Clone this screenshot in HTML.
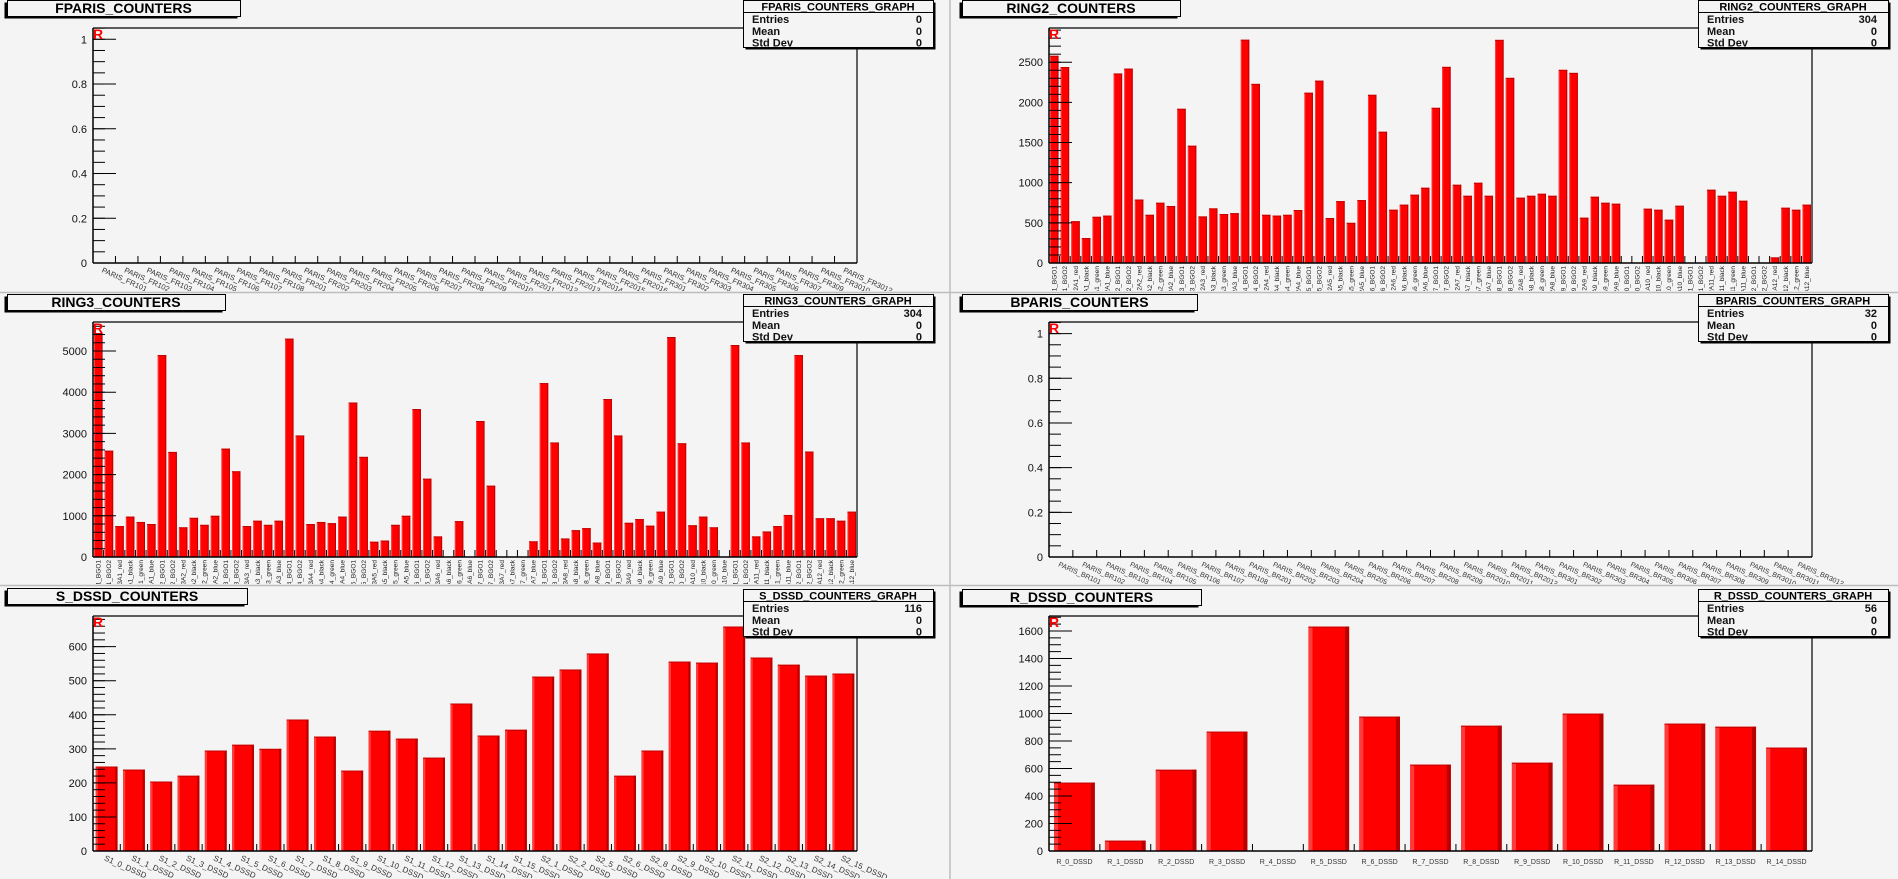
<!DOCTYPE html>
<html><head><meta charset="utf-8"><style>
html,body{margin:0;padding:0;background:#f4f4f4;}
svg{display:block;font-family:"Liberation Sans",sans-serif;}
</style></head><body>
<svg id="cv" width="1898" height="879" viewBox="0 0 1898 879" xmlns="http://www.w3.org/2000/svg">
<rect x="0" y="0" width="1898" height="879" fill="#f4f4f4"/>
<line x1="950" y1="0" x2="950" y2="879" stroke="#bdbdbd" stroke-width="1.5"/>
<line x1="0" y1="292.5" x2="1898" y2="292.5" stroke="#bdbdbd" stroke-width="1.5"/>
<line x1="0" y1="585.5" x2="1898" y2="585.5" stroke="#bdbdbd" stroke-width="1.5"/>
</svg>
<script>
const ring2Values=[2580,2440,520,310,575,590, 2360,2420,790,600,750,710, 1920,1460,580,680,610,620, 2780,2230,600,590,600,660, 2120,2270,560,770,500,783, 2094,1634,663,726,850,937, 1932,2442,974,837,999,837, 2778,2305,813,837,862,837, 2405,2367,564,825,750,738, 0,0,676,663,539,713, 0,0,912,837,887,775, 0,0,70,688,663,726];
const ring3Values=[5437,2580,750,980,850,800, 4900,2550,720,950,780,1000, 2630,2080,750,880,780,880, 5300,2950,800,850,820,980, 3750,2430,370,400,780,1000, 3590,1900,500,0,870,0, 3300,1730,0,0,0,380, 4220,2780,450,650,700,350, 3835,2950,830,920,760,1100, 5340,2760,770,980,720,0, 5145,2780,500,620,750,1020, 4900,2560,940,940,880,1100];
const sdssdCategories=["S1_0_DSSD","S1_1_DSSD","S1_2_DSSD","S1_3_DSSD","S1_4_DSSD","S1_5_DSSD","S1_6_DSSD","S1_7_DSSD","S1_8_DSSD","S1_9_DSSD","S1_10_DSSD","S1_11_DSSD","S1_12_DSSD","S1_13_DSSD","S1_14_DSSD","S1_15_DSSD","S2_1_DSSD","S2_2_DSSD","S2_5_DSSD","S2_6_DSSD","S2_8_DSSD","S2_9_DSSD","S2_10_DSSD","S2_11_DSSD","S2_12_DSSD","S2_13_DSSD","S2_14_DSSD","S2_15_DSSD"];
const sdssdValues=[248,239,204,221,295,312,300,386,336,236,353,330,274,433,339,356,512,533,580,221,295,556,553,659,568,547,515,521];
const rdssdCategories=["R_0_DSSD","R_1_DSSD","R_2_DSSD","R_3_DSSD","R_4_DSSD","R_5_DSSD","R_6_DSSD","R_7_DSSD","R_8_DSSD","R_9_DSSD","R_10_DSSD","R_11_DSSD","R_12_DSSD","R_13_DSSD","R_14_DSSD"];
const rdssdValues=[497,75,591,868,0,1632,977,628,911,642,999,482,926,904,752];
const fparisCategories=["PARIS_FR101","PARIS_FR102","PARIS_FR103","PARIS_FR104","PARIS_FR105","PARIS_FR106","PARIS_FR107","PARIS_FR108","PARIS_FR201","PARIS_FR202","PARIS_FR203","PARIS_FR204","PARIS_FR205","PARIS_FR206","PARIS_FR207","PARIS_FR208","PARIS_FR209","PARIS_FR2010","PARIS_FR2011","PARIS_FR2012","PARIS_FR2013","PARIS_FR2014","PARIS_FR2015","PARIS_FR2016","PARIS_FR301","PARIS_FR302","PARIS_FR303","PARIS_FR304","PARIS_FR305","PARIS_FR306","PARIS_FR307","PARIS_FR309","PARIS_FR3010","PARIS_FR3012"];
const bparisCategories=["PARIS_BR101","PARIS_BR102","PARIS_BR103","PARIS_BR104","PARIS_BR105","PARIS_BR106","PARIS_BR107","PARIS_BR108","PARIS_BR201","PARIS_BR202","PARIS_BR203","PARIS_BR204","PARIS_BR205","PARIS_BR206","PARIS_BR207","PARIS_BR208","PARIS_BR209","PARIS_BR2010","PARIS_BR2011","PARIS_BR2012","PARIS_BR301","PARIS_BR302","PARIS_BR303","PARIS_BR304","PARIS_BR305","PARIS_BR306","PARIS_BR307","PARIS_BR308","PARIS_BR309","PARIS_BR3010","PARIS_BR3011","PARIS_BR3012"];
const fparisTicks=["0","0.2","0.4","0.6","0.8","1"];
const bparisTicks=["0","0.2","0.4","0.6","0.8","1"];
const ring2Ticks=["0","500","1000","1500","2000","2500"];
const ring3Ticks=["0","1000","2000","3000","4000","5000"];
const sdssdTicks=["0","100","200","300","400","500","600"];
const rdssdTicks=["0","200","400","600","800","1000","1200","1400","1600"];
const entriesList=["0","304","304","32","116","56"];

const NS="http://www.w3.org/2000/svg";
const svg=document.getElementById('cv');
function mk(tag,attrs,parent){const e=document.createElementNS(NS,tag);for(const k in attrs)e.setAttribute(k,attrs[k]);(parent||svg).appendChild(e);return e;}

function ringCats(ring){const out=[];for(let a=1;a<=12;a++){["BGO1","BGO2","red","black","green","blue"].forEach(s=>out.push("R"+ring+"A"+a+"_"+s));}return out;}

const panels=[
 {name:"fparis",title:"FPARIS_COUNTERS",x0:93,x1:857,top:28,bot:263,ymax:1.0505,ticks:fparisTicks,minor:0.05,cats:fparisCategories,vals:null,lab:"slant",fs:7.5,tb:[7,0,233],sb:[743,0],rowBot:292,entries:entriesList[0]},
 {name:"ring2",title:"RING2_COUNTERS",x0:1049,x1:1812,top:28,bot:263,ymax:2926,ticks:ring2Ticks,minor:100,cats:ringCats(2),vals:ring2Values,lab:"vert",fs:6.5,tb:[962,0,218],sb:[1698,0],rowBot:292,entries:entriesList[1]},
 {name:"ring3",title:"RING3_COUNTERS",x0:93,x1:857,top:322,bot:557,ymax:5704,ticks:ring3Ticks,minor:200,cats:ringCats(3),vals:ring3Values,lab:"vert",fs:6.5,tb:[7,294,218],sb:[743,294],rowBot:585,entries:entriesList[2]},
 {name:"bparis",title:"BPARIS_COUNTERS",x0:1049,x1:1812,top:322,bot:557,ymax:1.052,ticks:bparisTicks,minor:0.05,cats:bparisCategories,vals:null,lab:"slant",fs:7,tb:[962,294,235],sb:[1698,294],rowBot:585,entries:entriesList[3]},
 {name:"s-dssd",title:"S_DSSD_COUNTERS",x0:93,x1:857,top:616,bot:851,ymax:690,ticks:sdssdTicks,minor:20,cats:sdssdCategories,vals:sdssdValues,lab:"slant",fs:8,tb:[7,588,240],sb:[743,589],rowBot:879,entries:entriesList[4]},
 {name:"r-dssd",title:"R_DSSD_COUNTERS",x0:1049,x1:1812,top:616,bot:851,ymax:1709,ticks:rdssdTicks,minor:50,cats:rdssdCategories,vals:rdssdValues,lab:"horiz",fs:7,tb:[962,589,239],sb:[1698,589],rowBot:879,entries:entriesList[5]}
];

panels.forEach((p,pi)=>{
 const g=mk('g',{});
 
 
 const ys=v=>p.bot-v/p.ymax*(p.bot-p.top);
 const n=p.cats.length, bw=(p.x1-p.x0)/n;
 const xs=i=>p.x0+i*bw;
 // clip for labels
 const cid='clip'+pi;
 const cp=mk('clipPath',{id:cid},g);
 mk('rect',{x:p.x0-60,y:p.bot,width:p.x1-p.x0+140,height:p.rowBot-p.bot-1},cp);
 // bars
 if(p.vals){
  p.vals.forEach((v,i)=>{
   if(v<=0)return;
   const bx=xs(i)+0.1*bw, w=0.8*bw, y=ys(v), h=p.bot-y;
   const b=mk('g',{},g);
   
   
   mk('rect',{x:bx,y:y,width:w,height:h,fill:'#ff0000'},b);
   const sw=Math.max(1,w*0.1);
   mk('rect',{x:bx,y:y,width:sw,height:h,fill:'#ff3c3c'},b);
   mk('rect',{x:bx+w-sw,y:y,width:sw,height:h,fill:'#b80000'},b);
   mk('line',{x1:bx,y1:y+0.5,x2:bx+w,y2:y+0.5,stroke:'#c00000','stroke-width':1},b);
  });
 }
 // frame
 const fr=mk('path',{d:`M${p.x0},${p.top}H${p.x1}V${p.bot}`,fill:'none',stroke:'#000','stroke-width':1.2},g);
 
 
 mk('line',{x1:p.x0,y1:p.bot,x2:p.x1,y2:p.bot,stroke:'#000','stroke-width':1.5},g);
 mk('line',{x1:p.x0,y1:p.top,x2:p.x0,y2:p.bot,stroke:'#000','stroke-width':1.5},g);
 // y ticks
 const yaxis=mk('g',{},g);
 
 
 for(let v=0;v<=p.ymax+1e-9;v+=p.minor){
  const y=ys(v);
  mk('line',{x1:p.x0,y1:y,x2:p.x0+12,y2:y,stroke:'#000','stroke-width':1},yaxis);
 }
 p.ticks.forEach(t=>{
  const y=ys(parseFloat(t));
  mk('line',{x1:p.x0,y1:y,x2:p.x0+23,y2:y,stroke:'#000','stroke-width':1},yaxis);
  const tx=mk('text',{x:p.x0-6,y:y+4,'text-anchor':'end','font-size':11,fill:'#111'},yaxis);
  tx.textContent=t;
  
  
 });
 // x ticks & labels
 const xaxis=mk('g',{'clip-path':`url(#${cid})`},g);
 
 
 for(let i=1;i<n;i++){mk('line',{x1:xs(i),y1:p.bot,x2:xs(i),y2:p.bot-7,stroke:'#000','stroke-width':1},g);}
 p.cats.forEach((c,i)=>{
  const cx=xs(i)+bw/2;
  let t;
  if(p.lab==='vert'){
   t=mk('text',{x:0,y:0,'text-anchor':'end','font-size':p.fs,fill:'#222',transform:`translate(${cx+2.3},${p.bot+3}) rotate(-90)`},xaxis);
  }else if(p.lab==='slant'){
   t=mk('text',{x:0,y:0,'font-size':p.fs,fill:'#333',transform:`translate(${cx-3},${p.bot+9}) rotate(24)`},xaxis);
  }else{
   t=mk('text',{x:cx,y:p.bot+13,'text-anchor':'middle','font-size':p.fs,fill:'#333'},xaxis);
  }
  t.textContent=c;
  
  
 });
 // R marker
 const r=mk('text',{x:p.x0,y:p.top+11,'font-size':14,'font-weight':'bold',fill:'#ff0000'},g);
 r.textContent='R';
 
 
 // title box
 const [tx,ty,tw]=p.tb;
 const tg=mk('g',{},g);
 
 
 mk('rect',{x:tx-2.5,y:ty+2.5,width:tw,height:16,fill:'#000'},tg);
 mk('rect',{x:tx+0.5,y:ty+0.5,width:tw,height:16,fill:'#f4f4f4',stroke:'#000','stroke-width':1},tg);
 const tt=mk('text',{x:tx+tw/2,y:ty+13,'text-anchor':'middle','font-size':14,'font-weight':'bold',fill:'#000'},tg);
 tt.textContent=p.title;
 // stats box
 const [sx,sy]=p.sb, sw2=190, sh=47;
 const sg=mk('g',{},g);
 
 
 mk('rect',{x:sx+2.5,y:sy+2.5,width:sw2,height:sh,fill:'#000'},sg);
 mk('rect',{x:sx+0.5,y:sy+0.5,width:sw2,height:sh,fill:'#f4f4f4',stroke:'#000','stroke-width':1},sg);
 mk('line',{x1:sx,y1:sy+12.5,x2:sx+sw2,y2:sy+12.5,stroke:'#000','stroke-width':1},sg);
 const st=mk('text',{x:sx+sw2/2,y:sy+10.5,'text-anchor':'middle','font-size':11,'font-weight':'bold',fill:'#000'},sg);
 st.textContent=p.title+'_GRAPH';
 [["Entries",p.entries],["Mean","0"],["Std Dev","0"]].forEach((row,k)=>{
  const yy=sy+23+k*11.8;
  const a=mk('text',{x:sx+9,y:yy,'font-size':11,'font-weight':'bold',fill:'#111'},sg);a.textContent=row[0];
  const b=mk('text',{x:sx+sw2-11,y:yy,'text-anchor':'end','font-size':11,'font-weight':'bold',fill:'#111'},sg);b.textContent=row[1];
 });
});
</script>
</body></html>
